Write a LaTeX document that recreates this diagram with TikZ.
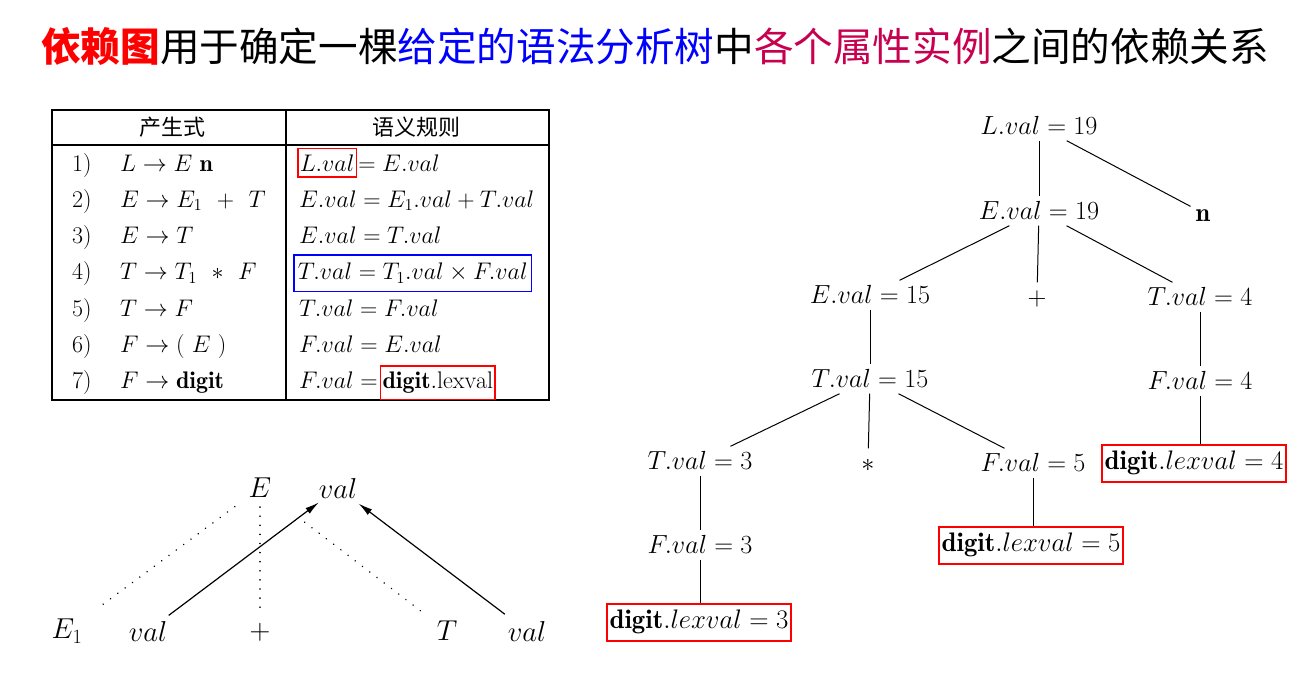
\RequirePackage{fix-cm}
\documentclass[tikz,border=0pt]{standalone}
\usepackage{fontspec}
\usepackage{amsmath}
\newfontfamily\cjk{Noto Sans CJK SC}
\usetikzlibrary{arrows.meta}
\definecolor{keyred}{RGB}{255,0,0}
\definecolor{keyblue}{RGB}{0,0,255}
\definecolor{keyrose}{RGB}{200,0,80}

\tikzset{
        attr/.style = {font=\fontsize{26.2}{26.2}\selectfont, inner sep=5pt, text height=18pt, text depth=1pt},
        leaf/.style = {attr, font=\fontsize{26.8}{26.8}\selectfont, draw=keyred, line width=2pt, inner xsep=3pt, inner ysep=7pt, text depth=5pt},
        branch/.style = {line width=1pt},
        rule/.style = {font=\fontsize{24}{24}\selectfont, anchor=base west, inner sep=2pt},
        hlred/.style = {rule, draw=keyred, line width=1.5pt, inner ysep=6pt},
        hlblue/.style = {rule, draw=keyblue, line width=1.5pt, inner ysep=8pt, inner xsep=4pt},
        sym/.style = {font=\fontsize{28.8}{28.8}\selectfont, inner sep=3pt},
        dep/.style = {line width=1.2pt, -{Latex[length=14pt,width=7pt]}},
        parse/.style = {line width=1.6pt, dash pattern=on 0.1pt off 9pt, line cap=round}
    }

\begin{document}
\begin{tikzpicture}[x=1pt, y=-1pt]
            \useasboundingbox (0,0) rectangle (1311,688);

            \node (title) at (655,46) {\cjk\fontsize{39.6}{39.6}\selectfont\textcolor{keyred}{\bfseries 依赖图}用于确定一棵\textcolor{keyblue}{给定的语法分析树}中\textcolor{keyrose}{各个属性实例}之间的依赖关系};

            % table of productions and rules
            \draw[line width=1.3pt] (52,110) rectangle (549,400);
            \draw[line width=1.3pt] (52,145) -- (549,145);
            \draw[line width=1.3pt] (286,110) -- (286,400);
            \node[font=\cjk\fontsize{22}{22}\selectfont] (head1) at (172,127) {产生式};
            \node[font=\cjk\fontsize{22}{22}\selectfont] (head2) at (416,127) {语义规则};

            \foreach \i/\p in {1/{L \to E\ \mathbf{n}},2/{E \to E_1\ \ {+}\ \ T},3/{E \to T},
                               4/{T \to T_1\ \ {*}\ \ F},5/{T \to F},6/{F \to (\ E\ )},7/{F \to \mathbf{digit}}} {
                \node[rule] (num\i) at (70, 171 + 36.3*\i - 36.3) {\i)};
                \node[rule] (prod\i) at (118, 171 + 36.3*\i - 36.3) {$\p$};
            };

            \node[hlred] (rule1a) at (297,171) {$L.val$};
            \node[rule, inner xsep=1pt] (rule1b) at (rule1a.base east) {$=E.val$};
            \node[rule] (rule2) at (297,207.3) {$E.val=E_1.val+T.val$};
            \node[rule] (rule3) at (297,243.6) {$E.val=T.val$};
            \node[hlblue] (rule4) at (293,279.9) {$T.val=T_1.val\times F.val$};
            \node[rule] (rule5) at (297,316.2) {$T.val=F.val$};
            \node[rule] (rule6) at (297,352.5) {$F.val=E.val$};
            \node[rule] (rule7a) at (297,388.8) {$F.val=$};
            \node[hlred] (rule7b) at (rule7a.base east) {$\mathbf{digit}.\mathrm{lexval}$};

            % dependency of E.val on E1.val and T.val
            \node[sym] (e) at (260,488) {$E$};
            \node[sym] (eval) at (338,488) {$val$};
            \node[sym] (e1) at (67,631) {$E_1$};
            \node[sym] (e1val) at (148,631) {$val$};
            \node[sym] (add) at (260,632) {$+$};
            \node[sym] (t) at (447,631) {$T$};
            \node[sym] (tval) at (527,631) {$val$};

            \draw[parse, shorten <=22pt, shorten >=12pt] (e1) -- (e);
            \draw[parse, shorten <=6pt, shorten >=12pt] (e) -- (add);
            \draw[parse, shorten <=38pt, shorten >=12pt] (e) -- (t);
            \draw[dep, shorten <=4pt, shorten >=2pt] (e1val) -- (eval);
            \draw[dep, shorten <=6pt, shorten >=4pt] (tval) -- (eval);

            % annotated parse tree
            \node[attr] (lval) at (1039,126) {$L.val=19$};
            \node[attr] (eval19) at (1039,211) {$E.val=19$};
            \node[attr] (n) at (1203,213) {$\mathbf{n}$};
            \node[attr] (eval15) at (870,295) {$E.val=15$};
            \node[attr] (plus) at (1037,297) {$+$};
            \node[attr] (tval4) at (1200,297) {$T.val=4$};
            \node[attr] (tval15) at (870,379) {$T.val=15$};
            \node[attr] (fval4) at (1200,381) {$F.val=4$};
            \node[attr] (tval3) at (700,461) {$T.val=3$};
            \node[attr] (star) at (868,463) {$*$};
            \node[attr] (fval5) at (1033,463) {$F.val=5$};
            \node[leaf] (dig4) at (1194,463) {$\mathbf{digit}.lexval=4$};
            \node[attr] (fval3) at (700,545) {$F.val=3$};
            \node[leaf] (dig5) at (1031,545) {$\mathbf{digit}.lexval=5$};
            \node[leaf] (dig3) at (699,622) {$\mathbf{digit}.lexval=3$};

            \draw[branch] (lval) -- (eval19);
            \draw[branch] (lval) -- (n);
            \draw[branch] (eval19) -- (eval15);
            \draw[branch] (eval19) -- (plus);
            \draw[branch] (eval19) -- (tval4);
            \draw[branch] (eval15) -- (tval15);
            \draw[branch] (tval4) -- (fval4);
            \draw[branch] (tval15) -- (tval3);
            \draw[branch] (tval15) -- (star);
            \draw[branch] (tval15) -- (fval5);
            \draw[branch] (fval4) -- (fval4 |- dig4.north);
            \draw[branch] (tval3) -- (fval3);
            \draw[branch] (fval5) -- (fval5 |- dig5.north);
            \draw[branch] (fval3) -- (fval3 |- dig3.north);

        \end{tikzpicture}
\end{document}
